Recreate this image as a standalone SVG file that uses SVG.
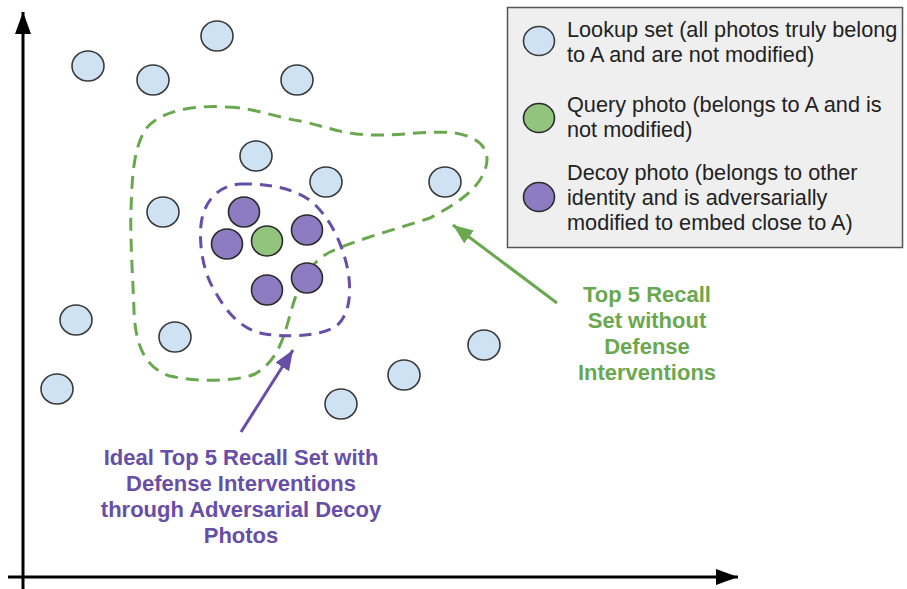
<svg xmlns="http://www.w3.org/2000/svg" width="907" height="589" viewBox="0 0 907 589">
<defs>
<style>
.lookup{fill:#cfe2f3;stroke:#3a3a3a;stroke-width:1.6}
.query{fill:#93c47d;stroke:#2a2a2a;stroke-width:1.6}
.decoy{fill:#8e7cc3;stroke:#2a2a2a;stroke-width:1.6}
.leg{font-family:"Liberation Sans",Arial,sans-serif;font-size:21.7px;fill:#222}
.lbl{font-family:"Liberation Sans",Arial,sans-serif;font-size:22px;font-weight:bold;text-anchor:middle}
.axis{stroke:#000;stroke-width:3;fill:none}
</style>
<marker id="axhead" markerUnits="userSpaceOnUse" markerWidth="24" markerHeight="18" refX="22" refY="8" orient="auto">
<path d="M0,0 L22,8 L0,16 Z" fill="#000"/>
</marker>
<marker id="ghead" markerUnits="userSpaceOnUse" markerWidth="22" markerHeight="18" refX="20" refY="8" orient="auto">
<path d="M0,0 L20,8 L0,16 Z" fill="#6aa84f"/>
</marker>
<marker id="phead" markerUnits="userSpaceOnUse" markerWidth="22" markerHeight="18" refX="20" refY="8" orient="auto">
<path d="M0,0 L20,8 L0,16 Z" fill="#674ea7"/>
</marker>
</defs>
<rect width="907" height="589" fill="#fff"/>

<g id="axes">
<line class="axis" x1="23" y1="589" x2="23" y2="12" marker-end="url(#axhead)"/>
<line class="axis" x1="8" y1="577" x2="738" y2="577" marker-end="url(#axhead)"/>
</g>

<g id="regions">
<path id="green-region" d="M227,107 C250,107 275,117 300,121 C325,126 340,134 370,135 C400,136 430,130 455,133 C480,137 492,150 485,170 C478,190 455,205 430,218 C400,228 355,240 330,252 C305,265 297,290 290,315 C283,340 278,360 255,374 C235,382 195,382 170,376 C145,368 135,345 134,310 C133,280 130,240 131,210 C132,180 133,150 145,130 C160,110 195,105 227,107 Z" fill="none" stroke="#6aa84f" stroke-width="3" stroke-dasharray="13 8"/>
<path id="purple-region" d="M240,184 C265,183 295,188 312,202 C330,218 340,240 346,262 C352,285 352,315 335,327 C318,337 285,337 265,334 C240,330 225,310 213,288 C203,270 199,245 201,225 C203,205 215,186 240,184 Z" fill="none" stroke="#674ea7" stroke-width="3" stroke-dasharray="12 8"/>
</g>

<g id="points">
<ellipse class="lookup" cx="217" cy="36" rx="16" ry="15"/>
<ellipse class="lookup" cx="88" cy="66" rx="16" ry="15"/>
<ellipse class="lookup" cx="153" cy="80" rx="16" ry="15"/>
<ellipse class="lookup" cx="297" cy="80" rx="16" ry="15"/>
<ellipse class="lookup" cx="256" cy="156" rx="16" ry="15"/>
<ellipse class="lookup" cx="326" cy="182" rx="16" ry="15"/>
<ellipse class="lookup" cx="445" cy="182" rx="16" ry="15"/>
<ellipse class="lookup" cx="163" cy="212" rx="16" ry="15"/>
<ellipse class="lookup" cx="76" cy="320" rx="16" ry="15"/>
<ellipse class="lookup" cx="175" cy="337" rx="16" ry="15"/>
<ellipse class="lookup" cx="57" cy="389" rx="16" ry="15"/>
<ellipse class="lookup" cx="341" cy="404" rx="16" ry="15"/>
<ellipse class="lookup" cx="404" cy="375" rx="16" ry="15"/>
<ellipse class="lookup" cx="484" cy="345" rx="16" ry="15"/>
<ellipse class="decoy" cx="244" cy="212" rx="15.5" ry="15"/>
<ellipse class="decoy" cx="227" cy="244" rx="15.5" ry="15"/>
<ellipse class="decoy" cx="307" cy="230" rx="15.5" ry="15"/>
<ellipse class="decoy" cx="307" cy="278" rx="15.5" ry="15"/>
<ellipse class="decoy" cx="267" cy="290" rx="15.5" ry="15"/>
<ellipse class="query" cx="267" cy="241" rx="15.5" ry="15"/>
</g>

<g id="connectors">
<line x1="557" y1="303" x2="453" y2="225" stroke="#6aa84f" stroke-width="3" marker-end="url(#ghead)"/>
<line x1="241" y1="432" x2="293" y2="350" stroke="#674ea7" stroke-width="3" marker-end="url(#phead)"/>
</g>

<g id="label-green">
<text class="lbl" fill="#6aa84f" x="647" y="302">Top 5 Recall</text>
<text class="lbl" fill="#6aa84f" x="647" y="328">Set without</text>
<text class="lbl" fill="#6aa84f" x="647" y="354">Defense</text>
<text class="lbl" fill="#6aa84f" x="647" y="380">Interventions</text>
</g>

<g id="label-purple">
<text class="lbl" fill="#674ea7" x="241" y="465">Ideal Top 5 Recall Set with</text>
<text class="lbl" fill="#674ea7" x="241" y="491">Defense Interventions</text>
<text class="lbl" fill="#674ea7" x="241" y="517">through Adversarial Decoy</text>
<text class="lbl" fill="#674ea7" x="241" y="543">Photos</text>
</g>

<g id="legend">
<rect x="507.5" y="7.5" width="395" height="240" fill="#efefef" stroke="#555" stroke-width="1.5"/>
<ellipse class="lookup" cx="539" cy="41" rx="15.5" ry="14.5"/>
<ellipse class="query" cx="539" cy="118" rx="15.5" ry="14.5"/>
<ellipse class="decoy" cx="539" cy="197" rx="15.5" ry="14.5"/>
<text class="leg" x="567" y="37">Lookup set (all photos truly belong</text>
<text class="leg" x="567" y="62">to A and are not modified)</text>
<text class="leg" x="567" y="112">Query photo (belongs to A and is</text>
<text class="leg" x="567" y="137">not modified)</text>
<text class="leg" x="567" y="180">Decoy photo (belongs to other</text>
<text class="leg" x="567" y="205">identity and is adversarially</text>
<text class="leg" x="567" y="230">modified to embed close to A)</text>
</g>
</svg>
